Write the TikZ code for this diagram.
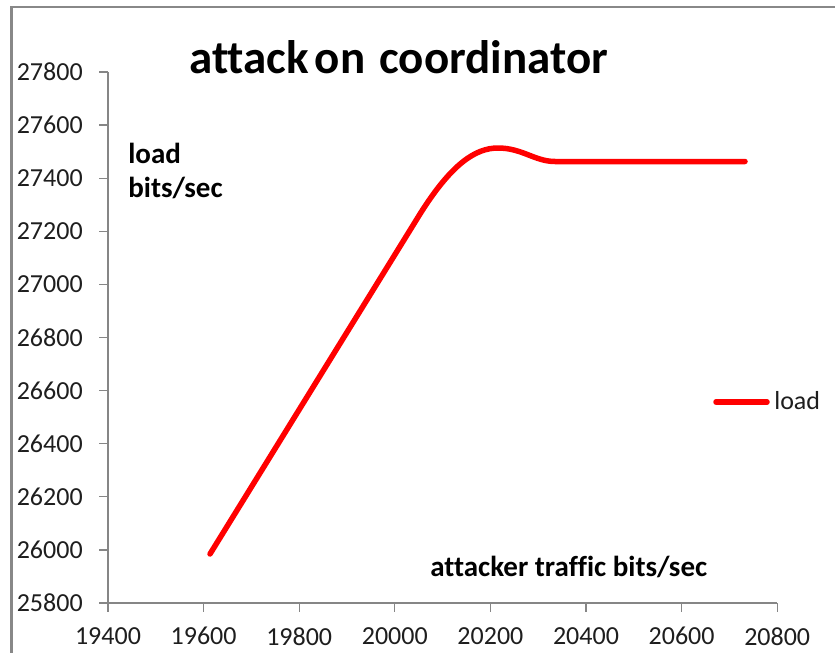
\documentclass[tikz,border=0pt]{standalone}
\usepackage{fontspec}
\setmainfont{Carlito}[Ligatures={NoCommon}]
\usetikzlibrary{positioning}

\definecolor{axisgray}{RGB}{134,134,134}
\definecolor{framegray}{RGB}{136,136,136}
\definecolor{textgray}{RGB}{30,30,30}

\begin{document}
\begin{tikzpicture}[x=1pt,y=-1pt,semithick]
\tikzstyle{axis line}=[draw=axisgray,line width=1.3pt]
\tikzstyle{frame line}=[draw=framegray,line width=2.2pt]
\tikzstyle{load line}=[draw=red,line width=5.5pt,line cap=round,line join=round]
\tikzset{ticklabel/.style={inner sep=0pt,text=textgray,font=\fontsize{26}{31}\selectfont},
         boldlabel/.style={inner sep=0pt,font=\bfseries\fontsize{29}{34}\selectfont}}

  \useasboundingbox (0,0) rectangle (835,653);
  \fill[white] (0,0) rectangle (835,653);

  % chart frame
  \draw[frame line] (11.5,653) -- (11.5,7) -- (835,7);

  % axes
  \draw[axis line] (108,72) -- (108,603) -- (777,603);
  \foreach \i/\yval in {0/25800,1/26000,2/26200,3/26400,4/26600,5/26800,
                        6/27000,7/27200,8/27400,9/27600,10/27800}
  {
    \draw[axis line] (99,{603-53.1*\i}) -- (108,{603-53.1*\i});
    \node[ticklabel,anchor=east] (ytick\i) at (83,{603-53.1*\i}) {\yval};
  }
  \foreach \i/\xval in {0/19400,1/19600,2/19800,3/20000,4/20200,5/20400,
                        6/20600,7/20800}
  {
    \draw[axis line] ({108+95.6*\i},603) -- ({108+95.6*\i},612);
    \node[ticklabel,anchor=north] (xtick\i) at ({108+95.6*\i},627) {\xval};
  }

  % titles
  \node[inner sep=0pt,anchor=base west,font=\bfseries\fontsize{47}{56}\selectfont]
        (title) at (189,73) {attack\hspace{0.12em}on\hspace{0.3em}coordinator};
  \node[boldlabel,anchor=base west] (yname) at (128,163) {load};
  \node[boldlabel,anchor=base west] (yunit) at (128,197) {bits/sec};
  \node[boldlabel,anchor=base west] (xname) at (430,576) {attacker traffic bits/sec};

  % data
  \draw[load line] (210,554) -- (420,214)
    .. controls (452,163) and (476,148) .. (498,148)
    .. controls (522,148) and (535,161.5) .. (555,161.5) -- (745,161.5);

  % legend
  \coordinate (legA) at (716,402);
  \coordinate (legB) at (767,402);
  \draw[load line] (legA) -- (legB);
  \node[ticklabel,anchor=west] (legtext) at (774,401) {load};
\end{tikzpicture}
\end{document}
